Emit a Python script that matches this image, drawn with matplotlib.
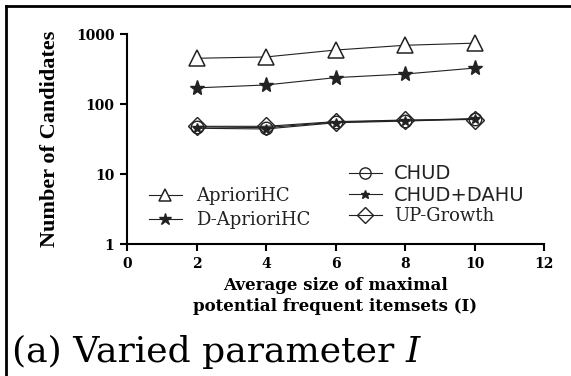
import matplotlib
matplotlib.use("Agg")
import matplotlib.pyplot as plt
from matplotlib.lines import Line2D

x = [2, 4, 6, 8, 10]
apriori_hc = [450, 470, 590, 690, 740]
d_apriori_hc = [170, 187, 238, 268, 326]
chud = [47, 46, 55, 58, 62]
chud_dahu = [45, 44, 54, 57, 61]
up_growth = [48, 48, 56, 59, 60]

xticks = [0, 2, 4, 6, 8, 10, 12]
yticks = [1, 10, 100, 1000]

serif = ["Liberation Serif", "DejaVu Serif"]
wserif = ["DejaVu Serif"]
sans = ["DejaVu Sans"]

W, H = 571, 376
fig = plt.figure(figsize=(W/100, H/100), dpi=100)
ax = fig.add_axes([127/W, 1-244/H, (544-127)/W, (244-34)/H])

lc = "#222222"
l1, = ax.plot(x, apriori_hc, color=lc, lw=0.8, marker="^", ms=11, mfc="white", mec=lc, mew=1.1, label="AprioriHC")
l2, = ax.plot(x, d_apriori_hc, color=lc, lw=0.8, marker="*", ms=11, mfc=lc, mec=lc, label="D-AprioriHC")
l3, = ax.plot(x, chud, color=lc, lw=0.8, marker="o", ms=9, mfc="none", mec=lc, mew=1.0, label="CHUD")
l4, = ax.plot(x, chud_dahu, color=lc, lw=0.8, marker="*", ms=7, mfc=lc, mec=lc, label="CHUD+DAHU")
l5, = ax.plot(x, up_growth, color=lc, lw=0.8, marker="D", ms=9.5, mfc="none", mec=lc, mew=1.0, label="UP-Growth")

ax.set_yscale("log")
ax.set_ylim(1, 1000)
ax.set_xlim(0, 12)
ax.set_xticks(xticks)
ax.set_xticklabels([str(t) for t in xticks])
ax.set_yticks(yticks)
ax.set_yticklabels([str(t) for t in yticks])
ax.yaxis.set_minor_locator(matplotlib.ticker.NullLocator())
for s in ["top", "right"]:
    ax.spines[s].set_visible(False)
for s in ["left", "bottom"]:
    ax.spines[s].set_linewidth(1.5)
ax.tick_params(direction="out", length=5, width=1.5, labelsize=10, pad=4)
for lab in ax.get_xticklabels() + ax.get_yticklabels():
    lab.set_fontfamily(wserif)
    lab.set_fontweight("bold")

ax.set_ylabel("Number of Candidates", fontsize=16, fontweight="bold", family=serif)
ax.yaxis.set_label_coords((60-127)/(544-127), 0.5)
ax.set_xlabel("Average size of maximal\npotential frequent itemsets (I)", fontsize=12,
              fontweight="bold", family=wserif, labelpad=5, linespacing=1.25)

leg1 = ax.legend([l1, l2], ["AprioriHC", "D-AprioriHC"], loc="upper left",
                 bbox_to_anchor=(149/W, 1-187/H), bbox_transform=fig.transFigure,
                 frameon=False, prop={"family": wserif, "size": 13}, handlelength=1.8,
                 handletextpad=0.8, labelspacing=0.35, borderpad=0, borderaxespad=0,
                 markerscale=0.85)
for t in leg1.get_texts():
    t.set_color("#222222")
ax.add_artist(leg1)
leg2 = ax.legend([l3, l4, l5], ["CHUD", "CHUD+DAHU", "UP-Growth"], loc="upper left",
                 bbox_to_anchor=(349/W, 1-164/H), bbox_transform=fig.transFigure,
                 frameon=False, prop={"family": wserif, "size": 13}, handlelength=1.8,
                 handletextpad=0.7, labelspacing=0.15, borderpad=0, borderaxespad=0,
                 markerscale=0.9)
tx = leg2.get_texts()
for t in tx:
    t.set_color("#222222")
tx[0].set_fontfamily(sans)
tx[1].set_fontfamily(sans)
tx[0].set_fontsize(14)
tx[1].set_fontsize(14)

cap = fig.text(12/W, 1-352/H, "(a) Varied parameter ", fontsize=26, family=wserif, va="center", ha="left")
fig.canvas.draw()
bb = cap.get_window_extent()
fig.text(bb.x1/W, 1-352/H, "I", fontsize=26, family=wserif, style="italic", va="center", ha="left")

fig.add_artist(Line2D([6/W, 6/W], [0, 1-6/H], transform=fig.transFigure, color="black", lw=2))
fig.add_artist(Line2D([6/W, 1], [1-6/H, 1-6/H], transform=fig.transFigure, color="black", lw=2))

fig.savefig("out.png", dpi=100)
